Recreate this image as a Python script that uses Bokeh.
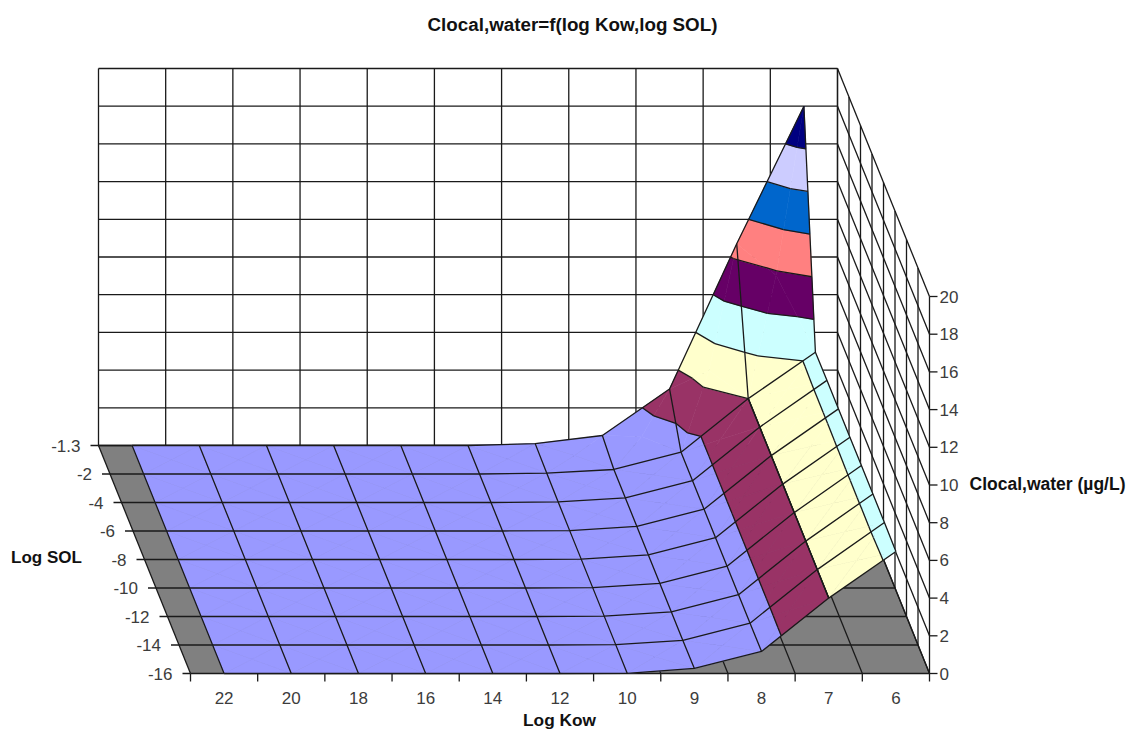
from bokeh.plotting import figure
from bokeh.models import Range1d
from bokeh.core.properties import value
from bokeh.embed import file_html
from bokeh.resources import INLINE

log_kow = ["22", "20", "18", "16", "14", "12", "10", "9", "8", "7", "6"]
log_sol = ["-1.3", "-2", "-4", "-6", "-8", "-10", "-12", "-14", "-16"]
z_ticks = [0, 2, 4, 6, 8, 10, 12, 14, 16, 18, 20]

sol_m1_3 = [0, 0, 0, 0, 0, 0, 0.1, 0.53, 3.0, 10.7, 18.0]
sol_m2 = [0, 0, 0, 0, 0, 0, 0.05, 0.24, 1.16, 4.0, 6.46]
sol_m4 = [0, 0, 0, 0, 0, 0, 0.03, 0.24, 1.16, 4.0, 6.48]
sol_m6 = [0, 0, 0, 0, 0, 0, 0.02, 0.24, 1.16, 4.0, 6.48]
sol_m8 = [0, 0, 0, 0, 0, 0, 0.02, 0.24, 1.16, 4.0, 6.49]
sol_m10 = [0, 0, 0, 0, 0, 0, 0.02, 0.24, 1.16, 4.0, 6.5]
sol_m12 = [0, 0, 0, 0, 0, 0, 0.02, 0.24, 1.16, 4.0, 6.5]
sol_m14 = [0, 0, 0, 0, 0, 0, 0.02, 0.24, 1.16, 4.0, 6.5]
sol_m16 = [0, 0, 0, 0, 0, 0, 0.01, 0.27, 1.17, 4.0, 6.47]
surface = [sol_m1_3, sol_m2, sol_m4, sol_m6, sol_m8, sol_m10, sol_m12, sol_m14, sol_m16]

band_colors = ["#9999FF", "#993366", "#FFFFCC", "#CCFFFF", "#660066",
               "#FF8080", "#0066CC", "#CCCCFF", "#000080"]
band_step = 2

# oblique projection of the chart box onto the page
X0, Y0 = 98.0, 445.0
CW = (837.0 - 98.0) / len(log_kow)
DX, DY = 92.0 / (len(log_sol) - 1), 228.0 / (len(log_sol) - 1)
ZS = 18.85


def proj(c, r, z):
    return (X0 + CW * c + DX * r, Y0 + DY * r - ZS * z)


def clip(poly, lo, hi):
    def half(pts, keep, f):
        out = []
        for i in range(len(pts)):
            a, b = pts[i], pts[(i + 1) % len(pts)]
            ka, kb = keep(a), keep(b)
            if ka:
                out.append(a)
            if ka != kb:
                t = f(a, b)
                out.append(tuple(a[k] + t * (b[k] - a[k]) for k in range(3)))
        return out
    p1 = half(poly, lambda a: a[2] >= lo, lambda a, b: (lo - a[2]) / (b[2] - a[2]))
    if not p1:
        return []
    return half(p1, lambda a: a[2] <= hi, lambda a, b: (hi - a[2]) / (b[2] - a[2]))


def contour(tri, lev):
    pts = []
    for i in range(3):
        a, b = tri[i], tri[(i + 1) % 3]
        if (a[2] - lev) * (b[2] - lev) < 0:
            t = (lev - a[2]) / (b[2] - a[2])
            pts.append(tuple(a[k] + t * (b[k] - a[k]) for k in range(3)))
    for v in tri:
        if v[2] == lev:
            pts.append(v)
    return pts[:2] if len(pts) >= 2 else None


p = figure(width=1133, height=731, x_range=Range1d(0, 1133), y_range=Range1d(731, 0),
           output_backend="svg", toolbar_location=None, min_border=0,
           outline_line_color=None, background_fill_color="white", border_fill_color="white")
p.axis.visible = False
p.grid.visible = False

LC, LW = "#1a1a1a", 1.3
nc, nr = len(log_kow), len(log_sol)
zmax = z_ticks[-1]

# floor
fx = [proj(*q)[0] for q in [(0, 0, 0), (nc, 0, 0), (nc, nr - 1, 0), (0, nr - 1, 0)]]
fy = [proj(*q)[1] for q in [(0, 0, 0), (nc, 0, 0), (nc, nr - 1, 0), (0, nr - 1, 0)]]
p.patch(fx, fy, fill_color="#808080", line_color=None)

gx, gy = [], []


def seg(a, b):
    pa, pb = proj(*a), proj(*b)
    gx.append([pa[0], pb[0]])
    gy.append([pa[1], pb[1]])


# walls and floor grid
for z in z_ticks:
    seg((0, 0, z), (nc, 0, z))
    seg((nc, 0, z), (nc, nr - 1, z))
for c in range(nc + 1):
    seg((c, 0, 0), (c, 0, zmax))
    seg((c, 0, 0), (c, nr - 1, 0))
for r in range(nr):
    seg((nc, r, 0), (nc, r, zmax))
    seg((0, r, 0), (nc, r, 0))
# ticks
for c in range(nc + 1):
    a = proj(c, nr - 1, 0)
    gx.append([a[0], a[0]]); gy.append([a[1], a[1] + 8])
for r in range(nr):
    a = proj(0, r, 0)
    gx.append([a[0] - 8, a[0]]); gy.append([a[1], a[1]])
for z in z_ticks:
    a = proj(nc, nr - 1, z)
    gx.append([a[0], a[0] + 8]); gy.append([a[1], a[1]])
p.multi_line(gx, gy, line_color=LC, line_width=LW)

# surface
px, py, pc, cx, cy = [], [], [], [], []
for r in range(nr - 1):
    for c in range(nc - 2, -1, -1):
        o = 0.5
        A = (c + o, r, surface[r][c])
        B = (c + 1 + o, r, surface[r][c + 1])
        C = (c + 1 + o, r + 1, surface[r + 1][c + 1])
        D = (c + o, r + 1, surface[r + 1][c])
        M = (c + 1, r + 0.5, (A[2] + B[2] + C[2] + D[2]) / 4)
        for tri in [(A, B, M), (B, C, M), (C, D, M), (D, A, M)]:
            for i, col in enumerate(band_colors):
                lo, hi = i * band_step, (i + 1) * band_step
                poly = clip(list(tri), lo, hi)
                if len(poly) >= 3:
                    s = [proj(*v) for v in poly]
                    px.append([q[0] for q in s])
                    py.append([q[1] for q in s])
                    pc.append(col)
                if i > 0:
                    sg = contour(tri, lo)
                    if sg:
                        s = [proj(*v) for v in sg]
                        cx.append([q[0] for q in s])
                        cy.append([q[1] for q in s])
p.patches(px, py, fill_color=pc, line_color=pc, line_width=0.6)
p.multi_line(cx, cy, line_color=LC, line_width=LW)

sx, sy = [], []
for r in range(nr):
    s = [proj(c + 0.5, r, surface[r][c]) for c in range(nc)]
    sx.append([q[0] for q in s]); sy.append([q[1] for q in s])
for c in range(nc):
    s = [proj(c + 0.5, r, surface[r][c]) for r in range(nr)]
    sx.append([q[0] for q in s]); sy.append([q[1] for q in s])
p.multi_line(sx, sy, line_color=LC, line_width=LW)

# tick labels
FONT = value("Liberation Sans")
TC = "#3c3c3c"
TS = "17px"
a = [proj(c + 0.5, nr - 1, 0) for c in range(nc)]
p.text([q[0] for q in a], [q[1] + 24 for q in a], text=log_kow, text_font=FONT, text_font_size=TS,
       text_color=TC, text_align="center", text_baseline="middle")
a = [proj(0, r, 0) for r in range(nr)]
p.text([q[0] - 18 for q in a], [q[1] for q in a], text=log_sol, text_font=FONT, text_font_size=TS,
       text_color=TC, text_align="right", text_baseline="middle")
a = [proj(nc, nr - 1, z) for z in z_ticks]
p.text([q[0] + 10 for q in a], [q[1] for q in a], text=[str(z) for z in z_ticks], text_font=FONT,
       text_font_size=TS, text_color=TC, text_align="left", text_baseline="middle")

# titles
for tx, ty, t, sz in [(572, 24, "Clocal,water=f(log Kow,log SOL)", "18.8px"),
                      (559, 719, "Log Kow", "17.3px"),
                      (46, 557, "Log SOL", "17px"),
                      (1047, 483, "Clocal,water (µg/L)", "17.5px")]:
    p.text([tx], [ty], text=[t], text_font=FONT, text_font_style="bold", text_font_size=sz,
           text_color="#111111", text_align="center", text_baseline="middle")

open("out.html", "w").write(file_html(p, INLINE))
